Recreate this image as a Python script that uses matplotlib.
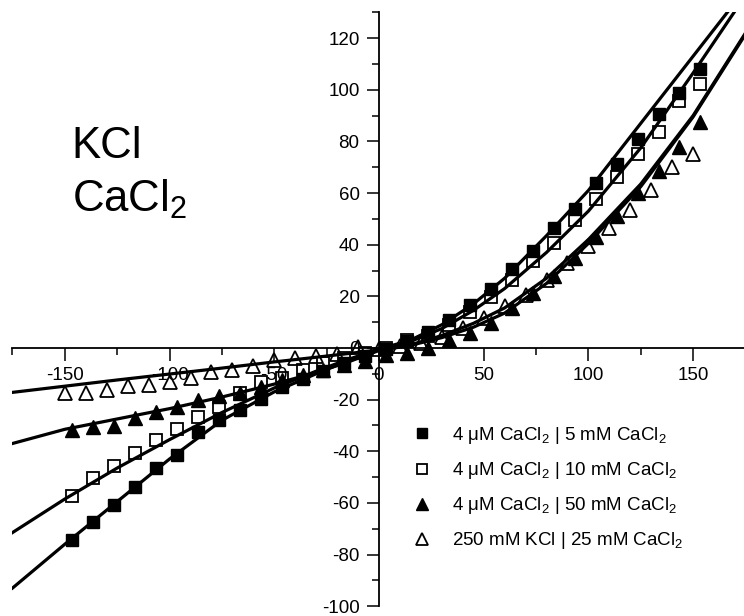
import matplotlib.pyplot as plt
from matplotlib.ticker import MultipleLocator

plt.rcParams["font.family"] = ["Liberation Sans", "DejaVu Sans"]
plt.rcParams["mathtext.fontset"] = "custom"
plt.rcParams["mathtext.rm"] = "Liberation Sans"
plt.rcParams["axes.unicode_minus"] = False

# measured points (mV, pA)
v_a = [-146.5, -136.5, -126.5, -116.5, -106.5, -96.5, -86.5, -76.5, -66.5, -56.5, -46.5,
       -36.5, -26.5, -16.5, -6.5, 3.5, 13.5, 23.5, 33.5, 43.5, 53.5, 63.5, 73.5, 83.5,
       93.5, 103.5, 113.5, 123.5, 133.5, 143.5, 153.5]
i_5mM = [-74.2, -67.4, -60.7, -54, -46.4, -41.5, -32.5, -28, -23.9, -19.8, -15.3,
         -12.2, -9, -5.8, -3, -0.5, 2.7, 6.2, 11, 16.5, 22.9, 30.4, 37.6, 46.5,
         54, 63.7, 71.2, 80.8, 90.5, 98.8, 108]
i_10mM = [-57.5, -50.2, -45.6, -40.5, -35.5, -31.3, -26.9, -22.7, -17.5, -13, -11.5,
          -8.5, -6, -4, -1.8, 0, 3.2, 4.8, 9, 13.8, 19.6, 26.5, 33.5, 40.6,
          49.6, 57.6, 66.4, 75.2, 83.8, 95.6, 102.4]
i_50mM = [-31.8, -30.7, -30.2, -27.2, -24.7, -22.7, -20, -18.8, -17.6, -15, -12.4,
          -10.5, -8.5, -6.5, -5, -2.6, -2, 0, 3.2, 5.7, 9.6, 15.5, 21.3, 27.7,
          35, 43, 51, 60, 68.5, 78, 87.7]
v_b = [-150, -140, -130, -120, -110, -100, -90, -80, -70, -60, -50, -40, -30, -20, -10, 0,
       10, 20, 30, 40, 50, 60, 70, 80, 90, 100, 110, 120, 130, 140, 150]
i_kcl = [-17.6, -17.4, -16.2, -14.9, -14.3, -13, -11.7, -9.2, -8.5, -7.1, -4.5, -3.9, -3.3,
         -2.4, 0.5, -0.5, 0.8, 1.8, 4.4, 7.6, 11.5, 16.1, 20.7, 26.4, 32.8, 39.3, 46.4,
         53.6, 61.2, 70.2, 75.3]

# fitted curves
v_fit = [-175, -150, -125, -100, -75, -50, -30, -15, 0, 15, 30, 45, 60, 80, 100, 125, 150, 175]
fit_5mM = [-93, -76, -59.5, -43, -28, -17, -10, -5, -0.5, 3, 9, 17, 27, 43.5, 61, 87, 113, 139]
fit_10mM = [-71.5, -58.5, -46.5, -35.5, -25, -15.5, -9, -4.5, -0.5, 2.5, 7.5, 14.5, 23, 37,
            53, 77.5, 106.5, 136.5]
fit_50mM = [-37, -31.5, -27.5, -23.5, -19, -14, -9.5, -5.5, -1, 1, 4, 8, 13.5, 25, 40.5,
            62.5, 89.5, 121.5]
fit_kcl = [-17.2, -14.8, -12.4, -10.1, -7.8, -5.4, -3.6, -2.2, -0.8, 1.2, 4.8, 9.5, 15.5,
           27, 42, 63.5, 90, 122]

labels = [
    r"4 μM CaCl$_\mathregular{2}$ | 5 mM CaCl$_\mathregular{2}$",
    r"4 μM CaCl$_\mathregular{2}$ | 10 mM CaCl$_\mathregular{2}$",
    r"4 μM CaCl$_\mathregular{2}$ | 50 mM CaCl$_\mathregular{2}$",
    r"250 mM KCl | 25 mM CaCl$_\mathregular{2}$",
]

fig = plt.figure(figsize=(7.44, 6.16), dpi=100)
ax = fig.add_axes([0.0168, 0.016, 0.9832, 0.964])

for fit in [fit_5mM, fit_10mM, fit_50mM, fit_kcl]:
    ax.plot(v_fit, fit, color="black", lw=2.3, zorder=2)

h1, = ax.plot(v_a, i_5mM, "s", color="black", ms=9, ls="none", zorder=3)
h2, = ax.plot(v_a, i_10mM, "s", mfc="none", mec="black", mew=1.3, ms=9, ls="none", zorder=3)
h3, = ax.plot(v_a, i_50mM, "^", color="black", ms=10, ls="none", zorder=3)
h4, = ax.plot(v_b, i_kcl, "^", mfc="none", mec="black", mew=1.3, ms=10, ls="none", zorder=3)

ax.set_xlim(-175, 174.3)
ax.set_ylim(-100, 130)

for side in ["top", "right"]:
    ax.spines[side].set_visible(False)
ax.spines["left"].set_position(("data", 0))
ax.spines["bottom"].set_position(("data", 0))
ax.spines["left"].set_linewidth(1.3)
ax.spines["bottom"].set_linewidth(1.3)

ax.xaxis.set_major_locator(MultipleLocator(50))
ax.xaxis.set_minor_locator(MultipleLocator(25))
ax.yaxis.set_major_locator(MultipleLocator(20))
ax.yaxis.set_minor_locator(MultipleLocator(10))
ax.tick_params(which="major", direction="out", length=9, width=1.1, labelsize=13.5, pad=5)
ax.tick_params(which="minor", direction="out", length=5, width=1.1)

fig.text(71.7 / 744, 1 - 158 / 616, "KCl", fontsize=31.5, va="baseline")
fig.text(71.7 / 744, 1 - 211.5 / 616, r"CaCl$_\mathregular{2}$", fontsize=31.5, va="baseline")

ax.legend([h1, h2, h3, h4], labels, loc="upper left", bbox_to_anchor=(0.554, 0.31),
          bbox_transform=fig.transFigure, frameon=False, fontsize=13.5, handlelength=1.0,
          handletextpad=1.15, labelspacing=0.75, borderpad=0, borderaxespad=0, markerscale=0.8)

fig.savefig("out.png", dpi=100)
